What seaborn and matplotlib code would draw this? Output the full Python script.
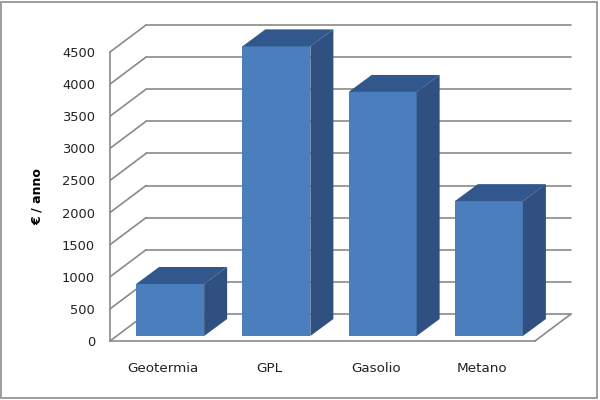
import matplotlib
matplotlib.use("Agg")
import matplotlib.pyplot as plt
import numpy as np
import seaborn as sns
from matplotlib.patches import Polygon, Rectangle
from matplotlib.transforms import Affine2D, IdentityTransform

categories = ["Geotermia", "GPL", "Gasolio", "Metano"]
values = [810, 4510, 3800, 2100]
y_ticks = [0, 500, 1000, 1500, 2000, 2500, 3000, 3500, 4000, 4500]
y_label = "€ / anno"

FRONT = "#4b7ebc"
TOP = "#31578c"
SIDE = "#2f5081"
GRID = "#8a8a8a"

sns.set_theme(style="white")
plt.rcParams["font.family"] = ["DejaVu Sans"]

fig = plt.figure(figsize=(6, 4), dpi=100, facecolor="white")
ax = fig.add_axes([110 / 600, 59 / 400, 425 / 600, 289 / 400])
ax.patch.set_alpha(0)

sns.barplot(x=categories, y=values, color=FRONT, saturation=1, width=0.64, ax=ax, zorder=3)
ax.set_xlim(-0.5, 3.5)
ax.set_ylim(0, 4500)
ax.set_yticks(y_ticks)
ax.set_xlabel("")
ax.set_ylabel(y_label, fontsize=9, fontweight="bold", color="black")
ax.yaxis.set_label_coords(-66 / 425, 0.5)
ax.tick_params(axis="y", length=0, pad=10.8, labelsize=9.4, labelcolor="#222222")
ax.tick_params(axis="x", length=0, pad=15, labelsize=9.7, labelcolor="#222222")
for s in ("top", "right"):
    ax.spines[s].set_visible(False)
for s in ("left", "bottom"):
    ax.spines[s].set_color(GRID)
    ax.spines[s].set_linewidth(1.2)

fig.canvas.draw()
px = IdentityTransform()

# back wall, side wall and floor of the 3D box (offset in pixels from front plane)
WALL_DX, WALL_DY = 36, 27
wall = ax.transData + Affine2D().translate(WALL_DX, WALL_DY)
for v in y_ticks:
    ax.plot([-0.5, 3.5], [v, v], color=GRID, lw=1.2, transform=wall, clip_on=False, zorder=1)
    (x0, y0) = ax.transData.transform((-0.5, v))
    ax.plot([x0, x0 + WALL_DX], [y0, y0 + WALL_DY], color=GRID, lw=1.2,
            transform=px, clip_on=False, zorder=1)
(x1, y1) = ax.transData.transform((3.5, 0))
ax.plot([x1, x1 + WALL_DX], [y1, y1 + WALL_DY], color=GRID, lw=1.2,
        transform=px, clip_on=False, zorder=1)

# bars: front face shifted into the box, with depth faces
BAR_DX, BAR_DY = 7, 5
DEPTH_DX, DEPTH_DY = 23, 17
front = ax.transData + Affine2D().translate(BAR_DX, BAR_DY)
for bar in list(ax.patches):
    bar.set_transform(front)
    bar.set_clip_on(False)
    bar.set_edgecolor("none")
    xl, xr = bar.get_x(), bar.get_x() + bar.get_width()
    h = bar.get_height()
    bl = front.transform((xl, 0))
    br = front.transform((xr, 0))
    tl = front.transform((xl, h))
    tr = front.transform((xr, h))
    d = np.array([DEPTH_DX, DEPTH_DY])
    ax.add_patch(Polygon([tl, tr, tr + d, tl + d], closed=True, facecolor=TOP, edgecolor="none",
                         transform=px, clip_on=False, zorder=3))
    ax.add_patch(Polygon([br, tr, tr + d, br + d], closed=True, facecolor=SIDE, edgecolor="none",
                         transform=px, clip_on=False, zorder=3))

# outer chart frame
fig.add_artist(Rectangle((0.002, 0.006), 0.993, 0.99, transform=fig.transFigure,
                         fill=False, edgecolor="#8c8c8c", lw=1.2))

fig.savefig("out.png", dpi=100, facecolor="white")
